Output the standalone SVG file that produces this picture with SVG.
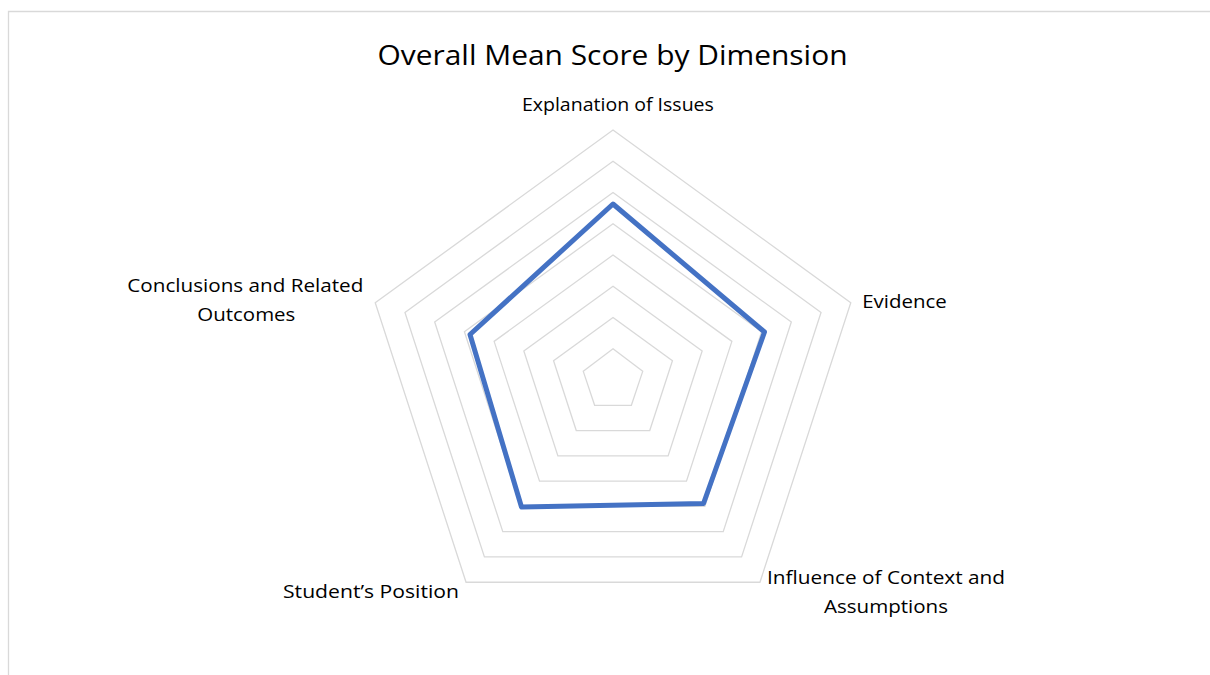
<svg xmlns="http://www.w3.org/2000/svg" width="1210" height="675" viewBox="0 0 1210 675">
  <style>
    .grid { fill: none; stroke: #D9D9D9; stroke-width: 1.3; stroke-linejoin: miter; }
    .lbl { font-family: "Open Sans", "Noto Sans", sans-serif; font-size: 18.8px; fill: #000000; text-anchor: middle; }
    .title { font-family: "Open Sans", "Noto Sans", sans-serif; font-size: 26.5px; fill: #000000; text-anchor: middle; }
    .series { fill: none; stroke: #4472C4; stroke-width: 5; stroke-linejoin: round; }
  </style>
  <rect x="0" y="0" width="1210" height="675" fill="#ffffff"/>
  <path id="frame" d="M8.5,675 L8.5,11.5 L1210,11.5" fill="none" stroke="#D9D9D9" stroke-width="1.3"/>
  <text id="title" class="title" x="612.5" y="64.5" textLength="470" lengthAdjust="spacingAndGlyphs">Overall Mean Score by Dimension</text>
  <g id="gridlines">
    <polygon class="grid" points="613,348.75 642.72,371.34 631.37,405.28 594.63,405.28 583.28,371.34"/>
    <polygon class="grid" points="613,317.5 672.44,360.69 649.74,430.56 576.26,430.56 553.56,360.69"/>
    <polygon class="grid" points="613,286.25 702.16,351.03 668.11,455.85 557.89,455.85 523.84,351.03"/>
    <polygon class="grid" points="613,255 731.88,341.37 686.47,481.13 539.53,481.13 494.12,341.37"/>
    <polygon class="grid" points="613,223.75 761.6,331.72 704.84,506.41 521.16,506.41 464.4,331.72"/>
    <polygon class="grid" points="613,192.5 791.32,322.06 723.21,531.69 502.79,531.69 434.68,322.06"/>
    <polygon class="grid" points="613,161.25 821.04,312.4 741.58,556.97 484.42,556.97 404.96,312.4"/>
    <polygon class="grid" points="613,130 850.77,302.75 759.95,582.26 466.05,582.26 375.23,302.75"/>
  </g>
  <g id="axis-labels">
    <g id="label-explanation">
      <text class="lbl" x="617.9" y="110.5" textLength="192" lengthAdjust="spacingAndGlyphs">Explanation of Issues</text>
    </g>
    <g id="label-evidence">
      <text class="lbl" x="904.5" y="307.5" textLength="84.5" lengthAdjust="spacingAndGlyphs">Evidence</text>
    </g>
    <g id="label-influence">
      <text class="lbl" x="886" y="584" textLength="238" lengthAdjust="spacingAndGlyphs">Influence of Context and</text>
      <text class="lbl" x="886" y="612.5" textLength="124" lengthAdjust="spacingAndGlyphs">Assumptions</text>
    </g>
    <g id="label-position">
      <text class="lbl" x="371" y="597.5" textLength="176" lengthAdjust="spacingAndGlyphs">Student’s Position</text>
    </g>
    <g id="label-conclusions">
      <text class="lbl" x="245.3" y="292.3" textLength="236" lengthAdjust="spacingAndGlyphs">Conclusions and Related</text>
      <text class="lbl" x="246.3" y="320.5" textLength="98" lengthAdjust="spacingAndGlyphs">Outcomes</text>
    </g>
  </g>
  <g id="series">
    <polygon class="series" points="613,204 764.5,332 703.5,503.5 521.5,507 470,334.5"/>
  </g>
</svg>
